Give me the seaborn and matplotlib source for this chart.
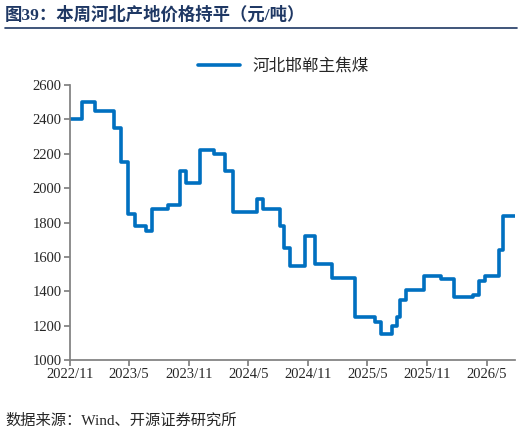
import matplotlib
matplotlib.use("Agg")
import matplotlib.pyplot as plt
import seaborn as sns
import pandas as pd

change_dates = ["2022-11-01","2022-12-07","2023-01-16","2023-03-16","2023-04-08","2023-04-27",
    "2023-05-18","2023-06-21","2023-07-12","2023-08-28","2023-10-04","2023-10-22","2023-12-04",
    "2024-01-16","2024-02-20","2024-03-15","2024-05-28","2024-06-15","2024-08-07","2024-08-19",
    "2024-09-07","2024-10-22","2024-11-22","2025-01-13","2025-03-25","2025-05-25","2025-06-13",
    "2025-07-16","2025-08-01","2025-08-10","2025-08-28","2025-10-21","2025-12-12","2026-01-21",
    "2026-03-22","2026-04-07","2026-04-25","2026-06-07","2026-06-22","2026-07-28"]
prices = [2400,2500,2450,2350,2150,1850,1780,1750,1880,1900,2100,2030,2220,2200,2100,1860,
    1940,1880,1780,1650,1550,1720,1560,1480,1250,1220,1150,1200,1250,1350,1410,1490,1470,
    1370,1380,1460,1490,1640,1840,1840]
tick_labels = ["2022/11","2023/5","2023/11","2024/5","2024/11","2025/5","2025/11","2026/5"]
series_name = "河北邯郸主焦煤"

sns.set_theme(style="white")
fam = ["Liberation Serif", "Noto Sans CJK SC", "DejaVu Sans"]
plt.rcParams["font.family"] = fam

df = pd.DataFrame({"date": pd.to_datetime(change_dates), "price": prices})
fig = plt.figure(figsize=(5.22, 4.36), dpi=100)
ax = fig.add_axes([0.134, 0.174, 0.853, 0.631])
sns.lineplot(data=df, x="date", y="price", drawstyle="steps-post", color="#0070C0",
             linewidth=2.6, ax=ax, label=series_name)
ax.set_xlim(pd.Timestamp("2022-11-01"), pd.Timestamp("2026-07-28"))
ax.set_ylim(1000, 2600)
ax.set_yticks(range(1000, 2601, 200))
ticks = pd.to_datetime([t.replace("/", "-") + "-01" for t in tick_labels])
ax.set_xticks(ticks)
ax.set_xticklabels(tick_labels)
ax.set_xlabel(""); ax.set_ylabel("")
for s in ["top", "right"]:
    ax.spines[s].set_visible(False)
for s in ["left", "bottom"]:
    ax.spines[s].set_color("#808080")
ax.tick_params(axis="x", bottom=True, direction="out", length=4, color="#808080", labelsize=10.5, pad=2)
ax.tick_params(axis="y", left=True, direction="out", length=4, color="#808080", labelsize=10.5, pad=2)
ax.legend(loc="upper center", bbox_to_anchor=(0.48, 1.15), frameon=False, fontsize=12,
          handlelength=2.5)
fig.text(0.01, 0.965, "图39：本周河北产地价格持平（元/吨）", fontsize=12.5, fontweight="bold",
         color="#1F3864", va="center")
fig.add_artist(plt.Line2D([0.01, 0.99], [0.935, 0.935], color="#1F3864", linewidth=1.2))
fig.text(0.01, 0.035, "数据来源：Wind、开源证券研究所", fontsize=11, va="center")
fig.savefig("out.png", dpi=100)
